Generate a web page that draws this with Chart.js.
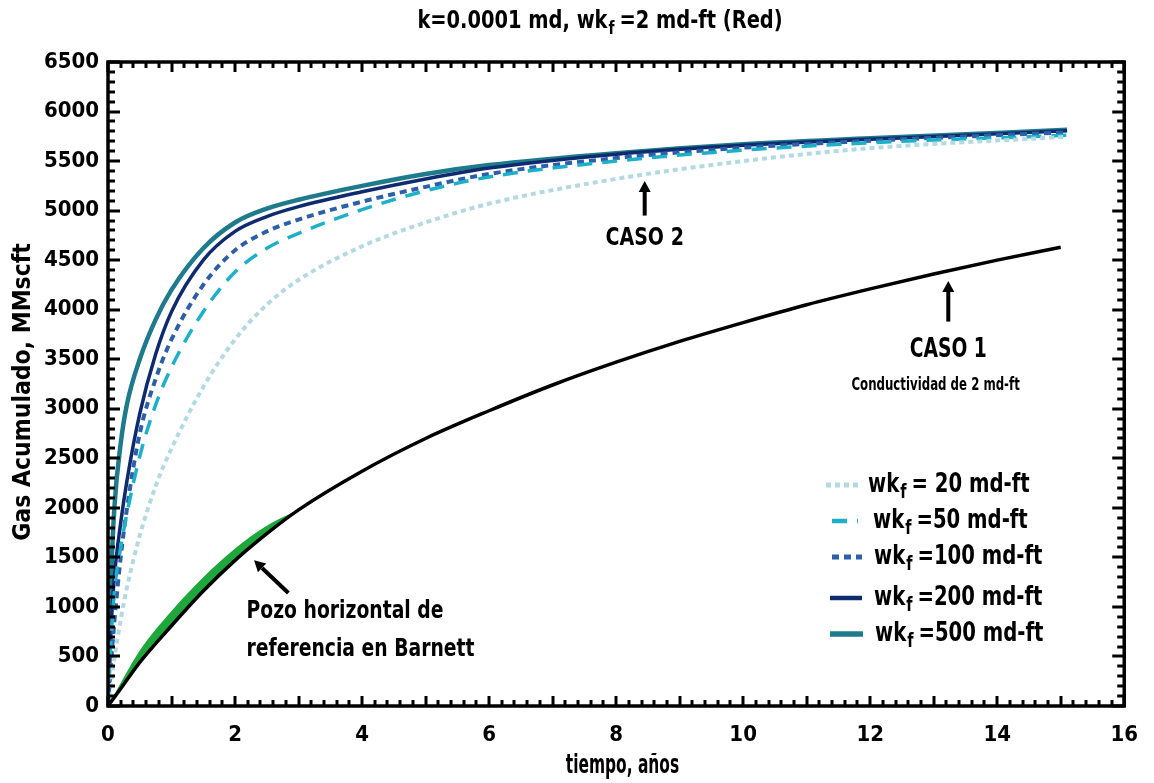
<!DOCTYPE html>
<html>
<head>
<meta charset="utf-8">
<script src="https://cdn.jsdelivr.net/npm/chart.js@4.4.1/dist/chart.umd.min.js"></script>
<style>
  html, body { margin: 0; padding: 0; background: #fff; }
  #wrap { width: 1154px; height: 783px; }
</style>
</head>
<body>
<div id="wrap"><canvas id="chart" width="1154" height="783"></canvas></div>
<script>
const FONT = "'DejaVu Sans Condensed', 'Liberation Sans Narrow', sans-serif";

// CASO 2 curves (time in years, cumulative gas in MMscft)
const caso2Years = [0, 0.05, 0.1, 0.2, 0.3, 0.5, 0.75, 1, 1.5, 2, 2.5, 3, 4, 5, 6, 8, 10, 12, 15.1];
const wkf20 = [0, 250, 480, 870, 1200, 1720, 2220, 2600, 3220, 3700, 4050, 4300, 4640, 4880, 5070, 5320, 5500, 5630, 5745];
const wkf50 = [0, 700, 1150, 1600, 1950, 2520, 3040, 3420, 3980, 4380, 4620, 4770, 5010, 5200, 5340, 5500, 5610, 5685, 5760];
const wkf100 = [0, 450, 850, 1500, 2000, 2750, 3300, 3700, 4250, 4600, 4790, 4910, 5090, 5240, 5370, 5530, 5635, 5705, 5790];
const wkf200 = [0, 800, 1300, 1850, 2280, 2950, 3550, 3980, 4500, 4790, 4940, 5040, 5190, 5320, 5430, 5570, 5660, 5720, 5805];
const wkf500 = [0, 1300, 2000, 2650, 3050, 3500, 3900, 4200, 4620, 4880, 5020, 5110, 5250, 5370, 5460, 5580, 5670, 5730, 5815];

// CASO 1 (2 md-ft) and Barnett reference well
const caso1Years = [0, 0.25, 0.5, 1, 1.5, 2, 2.5, 3, 4, 5, 6, 7, 8, 9, 10, 11, 12, 13, 14, 15];
const caso1Gas = [0, 220, 440, 810, 1160, 1470, 1740, 1980, 2370, 2700, 2980, 3240, 3470, 3680, 3870, 4050, 4210, 4360, 4500, 4630];
const barnettYears = [0, 0.25, 0.5, 1, 1.5, 2, 2.5, 2.9];
const barnettGas = [0, 290, 560, 960, 1300, 1590, 1820, 1950];

const xTicks = [0, 2, 4, 6, 8, 10, 12, 14, 16];
const yTicks = [0, 500, 1000, 1500, 2000, 2500, 3000, 3500, 4000, 4500, 5000, 5500, 6000, 6500];
const legendText = ["= 20 md-ft", "=50 md-ft", "=100 md-ft", "=200 md-ft", "=500 md-ft"];

function toPoints(xs, ys) {
  return xs.map((x, i) => ({ x: x, y: ys[i] }));
}

const lineBase = { pointRadius: 0, fill: false, cubicInterpolationMode: "monotone" };

const datasets = [
  Object.assign({}, lineBase, { label: "caso1", data: toPoints(caso1Years, caso1Gas), borderColor: "#000000", borderWidth: 3.5 }),
  Object.assign({}, lineBase, { label: "barnett", data: toPoints(barnettYears, barnettGas), borderColor: "rgba(0,0,0,0)", borderWidth: 0,
    backgroundColor: "#1ea83c", fill: { target: 0 } }),
  Object.assign({}, lineBase, { label: "wkf20", data: toPoints(caso2Years, wkf20), borderColor: "#b3d9e3", borderWidth: 4, borderDash: [5, 4] }),
  Object.assign({}, lineBase, { label: "wkf50", data: toPoints(caso2Years, wkf50), borderColor: "#1fb0c9", borderWidth: 3.5, borderDash: [15, 10] }),
  Object.assign({}, lineBase, { label: "wkf100", data: toPoints(caso2Years, wkf100), borderColor: "#2d5fa9", borderWidth: 4, borderDash: [7, 5] }),
  Object.assign({}, lineBase, { label: "wkf200", data: toPoints(caso2Years, wkf200), borderColor: "#0f2b70", borderWidth: 3.5 }),
  Object.assign({}, lineBase, { label: "wkf500", data: toPoints(caso2Years, wkf500), borderColor: "#1f7b8c", borderWidth: 4.5 }),
];

// draws the frame with inward ticks on all four sides
const frameTicks = {
  id: "frameTicks",
  afterDatasetsDraw(chart) {
    const { ctx, chartArea: a, scales } = chart;
    const x = scales.x, y = scales.y;
    ctx.save();
    ctx.strokeStyle = "#000";
    ctx.lineWidth = 3;
    ctx.beginPath();
    for (let i = 0; i <= 80; i++) {
      const px = Math.round(x.getPixelForValue(i * 0.2));
      const len = i % 5 === 0 ? 10 : 6;
      ctx.moveTo(px, a.bottom); ctx.lineTo(px, a.bottom - len);
      ctx.moveTo(px, a.top); ctx.lineTo(px, a.top + len);
    }
    for (let i = 0; i <= 65; i++) {
      const py = Math.round(y.getPixelForValue(i * 100));
      const len = i % 5 === 0 ? 12 : 7;
      ctx.moveTo(a.left, py); ctx.lineTo(a.left + len, py);
      ctx.moveTo(a.right, py); ctx.lineTo(a.right - len, py);
    }
    ctx.stroke();
    ctx.lineWidth = 3.5;
    ctx.strokeRect(a.left, a.top, a.right - a.left, a.bottom - a.top);
    ctx.restore();
  }
};

function arrow(ctx, x1, y1, x2, y2) {
  const ang = Math.atan2(y2 - y1, x2 - x1);
  const head = 11, w = 6;
  const bx = x2 - head * Math.cos(ang), by = y2 - head * Math.sin(ang);
  ctx.beginPath();
  ctx.lineWidth = 4;
  ctx.moveTo(x1, y1); ctx.lineTo(bx, by);
  ctx.stroke();
  ctx.beginPath();
  ctx.moveTo(x2, y2);
  ctx.lineTo(bx + w * Math.sin(ang), by - w * Math.cos(ang));
  ctx.lineTo(bx - w * Math.sin(ang), by + w * Math.cos(ang));
  ctx.closePath();
  ctx.fill();
}

// condensed text: font drawn with a horizontal squeeze
function text(ctx, s, x, y, size, sx, align) {
  ctx.save();
  ctx.font = "bold " + size + "px " + FONT;
  ctx.textAlign = align || "center";
  ctx.textBaseline = "middle";
  ctx.translate(x, y);
  ctx.scale(sx, 1);
  ctx.fillText(s, 0, 0);
  ctx.restore();
}

function measure(ctx, s, size, sx) {
  ctx.save();
  ctx.font = "bold " + size + "px " + FONT;
  const w = ctx.measureText(s).width * sx;
  ctx.restore();
  return w;
}

// "wk" + subscript "f" + rest, left aligned at x, middle at y
function drawWkf(ctx, x, y, size, sx, rest) {
  text(ctx, "wk", x, y, size, sx, "left");
  let cx = x + measure(ctx, "wk", size, sx) + 1;
  const sub = Math.round(size * 0.72);
  text(ctx, "f", cx, y + size * 0.32, sub, sx, "left");
  cx += measure(ctx, "f", sub, sx) + 5;
  text(ctx, rest, cx, y, size, sx, "left");
}

function wkfWidth(ctx, size, sx, rest) {
  return measure(ctx, "wk", size, sx) + 1 + measure(ctx, "f", Math.round(size * 0.72), sx) + 5 + measure(ctx, rest, size, sx);
}

const annotations = {
  id: "annotations",
  afterDraw(chart) {
    const { ctx, scales } = chart;
    const x = scales.x, y = scales.y;
    ctx.save();
    ctx.fillStyle = "#000";
    ctx.strokeStyle = "#000";

    // title
    const pre = "k=0.0001 md, ";
    const rest = "=2 md-ft (Red)";
    const ts = 24, tsx = 0.9;
    const total = measure(ctx, pre, ts, tsx) + wkfWidth(ctx, ts, tsx, rest);
    const tx = 600 - total / 2;
    text(ctx, pre, tx, 22, ts, tsx, "left");
    drawWkf(ctx, tx + measure(ctx, pre, ts, tsx), 22, ts, tsx, rest);

    // axis titles
    text(ctx, "tiempo, años", x.getPixelForValue(8.1), 766, 26, 0.66, "center");
    ctx.save();
    ctx.translate(24, y.getPixelForValue(3170));
    ctx.rotate(-Math.PI / 2);
    text(ctx, "Gas Acumulado, MMscft", 0, 0, 24, 1.02, "center");
    ctx.restore();

    // CASO 2
    arrow(ctx, x.getPixelForValue(8.45), y.getPixelForValue(4950), x.getPixelForValue(8.45), y.getPixelForValue(5300));
    text(ctx, "CASO 2", x.getPixelForValue(8.45), y.getPixelForValue(4720), 24, 0.88, "center");

    // CASO 1
    arrow(ctx, x.getPixelForValue(13.23), y.getPixelForValue(3880), x.getPixelForValue(13.23), y.getPixelForValue(4290));
    text(ctx, "CASO 1", x.getPixelForValue(13.23), y.getPixelForValue(3590), 26, 0.8, "center");
    text(ctx, "Conductividad de 2 md-ft", x.getPixelForValue(13.03), y.getPixelForValue(3230), 17, 0.77, "center");

    // Barnett reference well
    arrow(ctx, x.getPixelForValue(2.84), y.getPixelForValue(1140), x.getPixelForValue(2.3), y.getPixelForValue(1470));
    text(ctx, "Pozo horizontal de", x.getPixelForValue(2.18), y.getPixelForValue(950), 24, 0.87, "left");
    text(ctx, "referencia en Barnett", x.getPixelForValue(2.18), y.getPixelForValue(565), 24, 0.87, "left");

    // legend
    const rows = [485, 521, 557, 598, 634];
    const sampleX = [[826, 858], [832, 858], [832, 862], [830, 862], [830, 863]];
    const textX = [868, 873, 874, 874, 875];
    const series = datasets.slice(2);
    series.forEach((ds, i) => {
      ctx.save();
      ctx.strokeStyle = ds.borderColor;
      ctx.lineWidth = ds.borderWidth + 1;
      ctx.setLineDash(ds.borderDash || []);
      ctx.beginPath();
      ctx.moveTo(sampleX[i][0], rows[i]);
      ctx.lineTo(sampleX[i][1], rows[i]);
      ctx.stroke();
      ctx.restore();
      drawWkf(ctx, textX[i], rows[i], 26, 0.84, legendText[i]);
    });
    ctx.restore();
  }
};

new Chart(document.getElementById("chart").getContext("2d"), {
  type: "line",
  data: { datasets: datasets },
  options: {
    responsive: false,
    animation: false,
    devicePixelRatio: 1,
    layout: { padding: { left: 0, top: 62, right: 18, bottom: 0 } },
    plugins: { legend: { display: false }, tooltip: { enabled: false }, title: { display: false } },
    scales: {
      x: {
        type: "linear", min: 0, max: 16,
        afterFit(scale) { scale.height = 77; },
        afterBuildTicks(scale) { scale.ticks = xTicks.map((v) => ({ value: v })); },
        grid: { display: false, drawTicks: false },
        border: { display: false },
        ticks: { padding: 16, color: "#000", font: { family: FONT, size: 22, weight: "bold" }, maxRotation: 0,
          callback: (v) => String(v) }
      },
      y: {
        type: "linear", min: 0, max: 6500,
        afterFit(scale) { scale.width = 108; },
        afterBuildTicks(scale) { scale.ticks = yTicks.map((v) => ({ value: v })); },
        grid: { display: false, drawTicks: false },
        border: { display: false },
        ticks: { padding: 9, color: "#000", font: { family: FONT, size: 22, weight: "bold" },
          callback: (v) => String(v) }
      }
    }
  },
  plugins: [frameTicks, annotations]
});
</script>
</body>
</html>
